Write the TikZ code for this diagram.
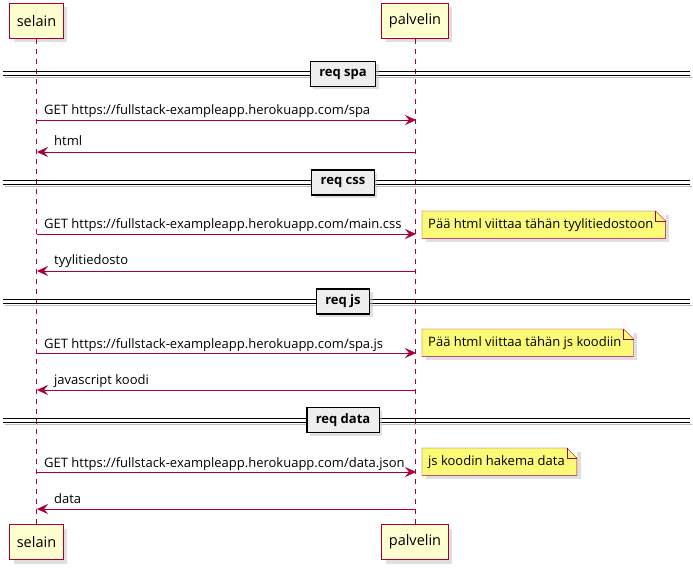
\documentclass[tikz,border=0pt]{standalone}
\usepackage{fontspec}
\setmainfont{Open Sans}
\usetikzlibrary{arrows.meta,shadows}

\definecolor{umlred}{HTML}{A80036}
\definecolor{umlpart}{HTML}{FEFECE}
\definecolor{umlnote}{HTML}{FBFB77}
\definecolor{umlsep}{HTML}{EEEEEE}

\newcommand\msgfont{\fontsize{13}{15}\selectfont}
\newcommand\notefold[1]{%
  \fill[white] ([xshift=-10pt]#1.north east) -- (#1.north east) -- ([yshift=-10pt]#1.north east) -- cycle;
  \draw[umlred] (#1.north west) -- ([xshift=-10pt]#1.north east) -- ([yshift=-10pt]#1.north east)
    -- (#1.south east) -- (#1.south west) -- cycle;
  \draw[umlred] ([xshift=-10pt]#1.north east) |- ([yshift=-10pt]#1.north east);
}

\tikzset{
  actor/.style={draw=umlred, fill=umlpart, line width=1pt, minimum height=35pt, inner xsep=7pt,
    font=\fontsize{14.5}{16}\selectfont, drop shadow={shadow xshift=4pt, shadow yshift=-4pt, fill=black!25}},
  life/.style={umlred, dash pattern=on 5pt off 5pt},
  msg/.style={umlred, -{Stealth[length=11pt, width=10pt, inset=4pt]}},
  lbl/.style={font=\msgfont, inner sep=0pt},
  note/.style={fill=umlnote, anchor=north west, inner xsep=6pt, minimum height=27pt, font=\msgfont,
    drop shadow={shadow xshift=4pt, shadow yshift=-4pt, fill=black!25}},
  sepbox/.style={draw, fill=umlsep, line width=1.5pt, minimum height=25pt, inner xsep=9pt,
    font=\msgfont\bfseries, drop shadow={shadow xshift=3pt, shadow yshift=-3pt, fill=black!25}},
}

\begin{document}
\begin{tikzpicture}[x=1pt, y=-1pt]
  \useasboundingbox (0,0) rectangle (693,569);

  % participants
  \node[actor] (selT) at (36.5,21) {selain};
  \node[actor] (palT) at (415,21) {palvelin};
  \node[actor] (selB) at (36.5,542) {selain};
  \node[actor] (palB) at (415,542) {palvelin};
  \draw[life] (selT) -- (selB);
  \draw[life] (palT) -- (palB);

  % dividers
  \foreach \y/\t in {74/spa, 182.5/css, 301.5/js, 420/data}{
    \draw[black!25, line width=1pt] (5,\y+4) -- (692,\y+4);
    \draw[line width=1pt] (3,\y-2) -- (690,\y-2) (3,\y+2) -- (690,\y+2);
    \node[sepbox] (sep\t) at (343,\y) {req \t};
  }

  % req spa
  \coordinate (s1) at (37,120); \coordinate (p1) at (416,120);
  \draw[msg] (s1) -- (p1);
  \node[lbl, anchor=base west] (m1) at ([xshift=7pt, yshift=5pt]s1) {GET https://fullstack-exampleapp.herokuapp.com/spa};
  \coordinate (s2) at (37,152); \coordinate (p2) at (416,152);
  \draw[msg] (p2) -- (s2);
  \node[lbl, anchor=base west] (m2) at ([xshift=17pt, yshift=6pt]s2) {html};

  % req css
  \coordinate (s3) at (37,234); \coordinate (p3) at (416,234);
  \draw[msg] (s3) -- (p3);
  \node[lbl, anchor=base west] (m3) at ([xshift=7pt, yshift=5pt]s3) {GET https://fullstack-exampleapp.herokuapp.com/main.css};
  \node[note] (n3) at (422,211) {Pää html viittaa tähän tyylitiedostoon\hspace*{6pt}};
  \notefold{n3}
  \coordinate (s4) at (37,271); \coordinate (p4) at (416,271);
  \draw[msg] (p4) -- (s4);
  \node[lbl, anchor=base west] (m4) at ([xshift=17pt, yshift=6pt]s4) {tyylitiedosto};

  % req js
  \coordinate (s5) at (37,353); \coordinate (p5) at (416,353);
  \draw[msg] (s5) -- (p5);
  \node[lbl, anchor=base west] (m5) at ([xshift=7pt, yshift=5pt]s5) {GET https://fullstack-exampleapp.herokuapp.com/spa.js};
  \node[note] (n5) at (422,329) {Pää html viittaa tähän js koodiin\hspace*{6pt}};
  \notefold{n5}
  \coordinate (s6) at (37,390); \coordinate (p6) at (416,390);
  \draw[msg] (p6) -- (s6);
  \node[lbl, anchor=base west] (m6) at ([xshift=17pt, yshift=6pt]s6) {javascript koodi};

  % req data
  \coordinate (s7) at (37,472); \coordinate (p7) at (416,472);
  \draw[msg] (s7) -- (p7);
  \node[lbl, anchor=base west] (m7) at ([xshift=7pt, yshift=5pt]s7) {GET https://fullstack-exampleapp.herokuapp.com/data.json};
  \node[note] (n7) at (422,448) {js koodin hakema data\hspace*{6pt}};
  \notefold{n7}
  \coordinate (s8) at (37,509); \coordinate (p8) at (416,509);
  \draw[msg] (p8) -- (s8);
  \node[lbl, anchor=base west] (m8) at ([xshift=17pt, yshift=6pt]s8) {data};
\end{tikzpicture}
\end{document}
